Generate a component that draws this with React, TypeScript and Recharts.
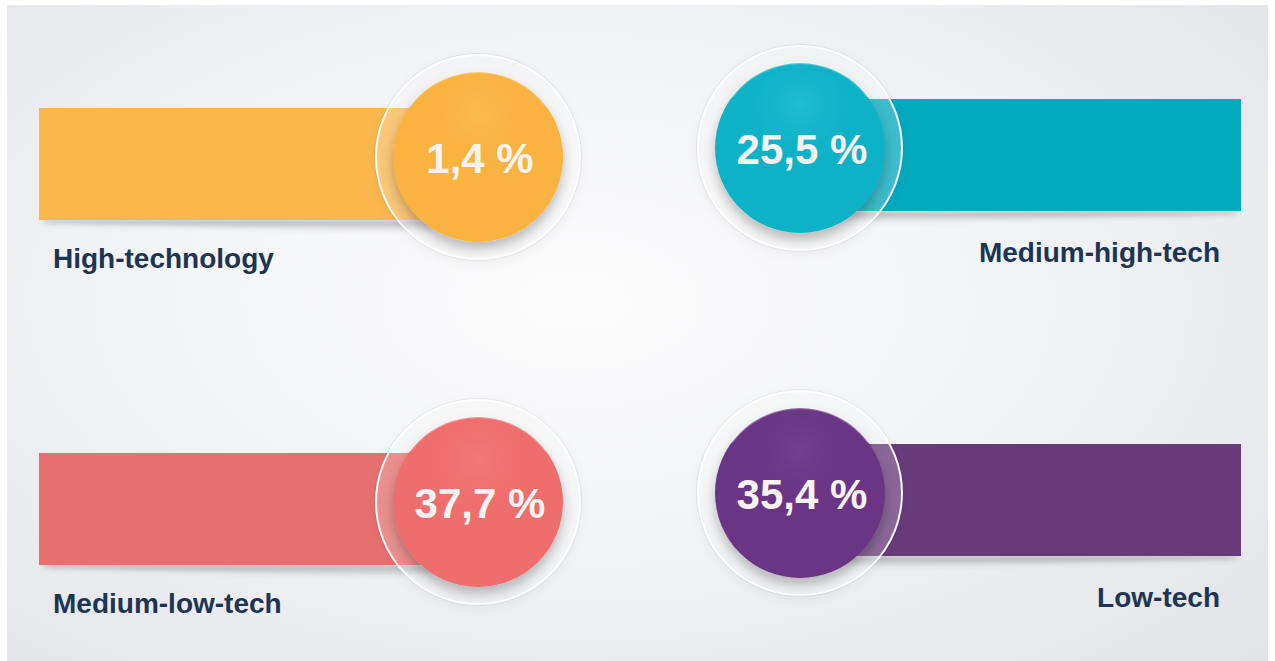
import React from 'react';
import { ScatterChart, Scatter, XAxis, YAxis } from 'recharts';

// ---- data ----
const categories = ['High-technology', 'Medium-high-tech', 'Medium-low-tech', 'Low-tech'];
const shares = [1.4, 25.5, 37.7, 35.4];
const barColors = ['#FCB84F', '#02AABF', '#E6706F', '#683A7A'];
const circleColors = ['#FAB23F', '#0FB2C7', '#EE6E6D', '#6A3584'];
const circleLights = ['#FFD46E', '#4FD3E2', '#F7918F', '#8A55A6'];

const formatShare = (v: number) => v.toString().replace('.', ',') + ' %';

const data = categories.map((name, i) => ({
  name,
  value: shares[i],
  col: i % 2,
  row: Math.floor(i / 2),
  idx: i,
}));

const FONT = '"Liberation Sans", Arial, Helvetica, sans-serif';

const Item = (props: any) => {
  const { cx, cy, payload } = props;
  const i: number = payload.idx;
  const right = payload.col === 1;
  const x0 = cx;
  const y0 = cy + (right ? -9 : 0);
  const barTop = y0 - 49;
  const barH = 112;
  const barBottom = barTop + barH;
  const barX = right ? x0 : x0 - 439;
  const barW = right ? 441 : 439;
  const r = 85;
  const ringR = 102;
  const farX = right ? x0 + barW : x0 - barW;
  const shadowPts = right
    ? `${x0},${barBottom} ${farX},${barBottom} ${farX - 10},${barBottom + 3} ${x0 + 60},${barBottom + 12} ${x0},${barBottom + 12}`
    : `${x0},${barBottom} ${farX},${barBottom} ${farX + 10},${barBottom + 3} ${x0 - 60},${barBottom + 12} ${x0},${barBottom + 12}`;
  return (
    <g>
      <defs>
        <filter id={`blur${i}`} x="-20%" y="-50%" width="140%" height="200%">
          <feGaussianBlur stdDeviation="2.5" />
        </filter>
        <filter id={`cshadow${i}`} x="-40%" y="-40%" width="180%" height="180%">
          <feDropShadow dx="0" dy="7" stdDeviation="6" floodColor="#000" floodOpacity="0.25" />
        </filter>
        <filter id={`rshadow${i}`} x="-40%" y="-40%" width="180%" height="180%">
          <feDropShadow dx="0" dy="3" stdDeviation="4" floodColor="#000" floodOpacity="0.10" />
        </filter>
        <radialGradient id={`cgrad${i}`} cx="50%" cy="25%" r="75%">
          <stop offset="0%" stopColor={circleLights[i]} stopOpacity={0.3} />
          <stop offset="50%" stopColor={circleColors[i]} stopOpacity={0} />
          <stop offset="100%" stopColor={circleColors[i]} stopOpacity={0} />
        </radialGradient>
        <linearGradient id={`sgrad${i}`} x1="0" y1="0" x2="0" y2="1">
          <stop offset="0%" stopColor="#555" stopOpacity={0.45} />
          <stop offset="100%" stopColor="#555" stopOpacity={0} />
        </linearGradient>
      </defs>
      {/* bar shadow */}
      <polygon points={shadowPts} fill={`url(#sgrad${i})`} filter={`url(#blur${i})`} />
      {/* bar */}
      <rect x={barX} y={barTop} width={barW} height={barH} fill={barColors[i]} />
      {/* glass ring */}
      <circle
        cx={x0}
        cy={y0}
        r={ringR}
        fill="rgba(255,255,255,0.22)"
        stroke="rgba(255,255,255,0.95)"
        strokeWidth={2}
        filter={`url(#rshadow${i})`}
      />
      <circle cx={x0} cy={y0} r={ringR + 1.5} fill="none" stroke="rgba(0,0,0,0.06)" strokeWidth={1} />
      {/* main circle */}
      <circle cx={x0} cy={y0} r={r} fill={circleColors[i]} filter={`url(#cshadow${i})`} />
      <circle cx={x0} cy={y0} r={r} fill={`url(#cgrad${i})`} />
      <path
        d={`M ${x0 - r * 0.8} ${y0 - r * 0.6} A ${r} ${r} 0 0 1 ${x0 + r * 0.8} ${y0 - r * 0.6}`}
        fill="none"
        stroke="rgba(255,255,255,0.28)"
        strokeWidth={2.5}
      />
      <text
        x={x0 + 2}
        y={y0 + 16}
        textAnchor="middle"
        fontFamily={FONT}
        fontWeight="bold"
        fontSize={42}
        fill="#F6F4F2"
      >
        {formatShare(payload.value)}
      </text>
      {/* category label */}
      <text
        x={right ? x0 + 420 : x0 - 425}
        y={y0 + (right ? 114 : 111)}
        textAnchor={right ? 'end' : 'start'}
        fontFamily={FONT}
        fontWeight="bold"
        fontSize={28}
        fill="#1D3453"
      >
        {payload.name}
      </text>
    </g>
  );
};

export default function App() {
  return (
    <div style={{ position: 'absolute', left: 0, top: 0, width: 1275, height: 661, background: '#ffffff' }}>
      <div
        style={{
          position: 'absolute',
          left: 7,
          top: 5,
          width: 1261,
          height: 656,
          background:
            'radial-gradient(ellipse 75% 80% at 45% 45%, #fbfbfc 0%, #f3f4f6 45%, #e7e9ec 80%, #e1e3e7 100%)',
        }}
      />
      <div style={{ position: 'absolute', left: 0, top: 0 }}>
        <ScatterChart width={1275} height={661} margin={{ top: 157, right: 475, bottom: 159, left: 478 }}>
          <XAxis type="number" dataKey="col" domain={[0, 1]} hide />
          <YAxis type="number" dataKey="row" domain={[0, 1]} reversed hide />
          <Scatter data={data} shape={Item} isAnimationActive={false} />
        </ScatterChart>
      </div>
    </div>
  );
}
